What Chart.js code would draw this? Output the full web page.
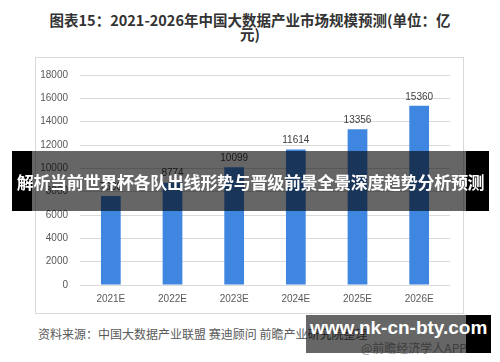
<!DOCTYPE html>
<html lang="zh">
<head>
<meta charset="UTF-8">
<title>2021-2026年中国大数据产业市场规模预测</title>
<script src="https://cdn.jsdelivr.net/npm/chart.js"></script>
<style>
    html, body {
        margin: 0;
        padding: 0;
        background: #fff;
    }
    body {
        width: 500px;
        height: 362px;
        position: relative;
        overflow: hidden;
        font-family: "Noto Sans CJK SC", sans-serif;
    }
    .title {
        position: absolute;
        left: 0;
        top: 13px;
        width: 500px;
        text-align: center;
        font-size: 14.5px;
        font-weight: bold;
        line-height: 13.5px;
        color: #333;
    }
    .frame {
        position: absolute;
        left: 35px;
        top: 57px;
        width: 429px;
        height: 257px;
        border: 1px solid #d9d9d9;
        box-sizing: border-box;
    }
    #chartBox {
        position: absolute;
        left: 35px;
        top: 57px;
        width: 428px;
        height: 256px;
    }
    .source {
        position: absolute;
        left: 38px;
        top: 325px;
        font-size: 12px;
        color: #595959;
        white-space: nowrap;
    }
    .app {
        position: absolute;
        left: 361px;
        top: 339px;
        font-size: 12px;
        color: #999;
        white-space: nowrap;
    }
    .band {
        position: absolute;
        left: 12px;
        top: 151px;
        width: 477px;
        height: 60px;
        background: linear-gradient(to right, #000 20px, rgba(0,0,0,0.6) 20px, rgba(0,0,0,0.6) 454px, #000 454px);
    }
    .band span {
        position: absolute;
        left: 0;
        width: 477px;
        top: 50%;
        transform: translateY(-50%);
        text-align: center;
        color: #fff;
        font-size: 17px;
        font-weight: bold;
        white-space: nowrap;
        letter-spacing: -0.3px;
    }
    .site {
        position: absolute;
        left: 306px;
        top: 315px;
        width: 185px;
        height: 38px;
        background: linear-gradient(to right, rgba(0,0,0,0.6) 160px, #000 160px);
    }
    .site span {
        position: absolute;
        left: 4px;
        top: 2px;
        color: #fff;
        font-family: "Liberation Sans", Arial, sans-serif;
        font-weight: bold;
        font-size: 19px;
        white-space: nowrap;
    }
</style>
</head>
<body>
    <div class="title">图表15：2021-2026年中国大数据产业市场规模预测(单位：亿<br>元)</div>
    <div class="frame"></div>
    <div id="chartBox"><canvas id="barChart" width="428" height="256"></canvas></div>
    <div class="source">资料来源：中国大数据产业联盟 赛迪顾问 前瞻产业研究院整理</div>
    <div class="app">@前瞻经济学人APP</div>
    <div class="band"><span>解析当前世界杯各队出线形势与晋级前景全景深度趋势分析预测</span></div>
    <div class="site"><span>www.nk-cn-bty.com</span></div>
<script>
    // data (2021E label is hidden, estimated)
    const years = ['2021E', '2022E', '2023E', '2024E', '2025E', '2026E'];
    const marketSize = [7630, 8774, 10099, 11614, 13356, 15360];
    const yTicks = [0, 2000, 4000, 6000, 8000, 10000, 12000, 14000, 16000, 18000];

    const numFont = "'Liberation Sans', Arial, sans-serif";

    // value labels above the bars
    const valueLabels = {
        id: 'valueLabels',
        afterDatasetsDraw(chart) {
            const ctx = chart.ctx;
            const meta = chart.getDatasetMeta(0);
            ctx.save();
            ctx.font = '10px ' + numFont;
            ctx.fillStyle = '#404040';
            ctx.textAlign = 'center';
            ctx.textBaseline = 'bottom';
            meta.data.forEach((bar, i) => {
                ctx.fillText(marketSize[i], bar.x, bar.y - 4);
            });
            ctx.restore();
        }
    };

    new Chart(document.getElementById('barChart').getContext('2d'), {
        type: 'bar',
        data: {
            labels: years,
            datasets: [{
                data: marketSize,
                backgroundColor: '#3f86e0',
                categoryPercentage: 1,
                barPercentage: 0.32
            }]
        },
        options: {
            responsive: false,
            animation: false,
            devicePixelRatio: 1,
            layout: { padding: { left: 0, right: 13, top: 12, bottom: 0 } },
            plugins: {
                legend: { display: false },
                tooltip: { enabled: false }
            },
            scales: {
                x: {
                    grid: { display: false, drawTicks: false },
                    border: { display: false },
                    ticks: { color: '#595959', font: { size: 10, family: numFont }, padding: 8 },
                    afterFit(scale) { scale.height = 28; }
                },
                y: {
                    min: 0,
                    max: 18000,
                    afterBuildTicks(scale) { scale.ticks = yTicks.map(v => ({ value: v })); },
                    grid: { color: '#d9d9d9', drawTicks: false },
                    border: { display: false },
                    ticks: {
                        color: '#595959',
                        font: { size: 10, family: numFont },
                        padding: 12,
                        callback: v => String(v)
                    },
                    afterFit(scale) { scale.width = 45; }
                }
            }
        },
        plugins: [valueLabels]
    });
</script>
</body>
</html>
